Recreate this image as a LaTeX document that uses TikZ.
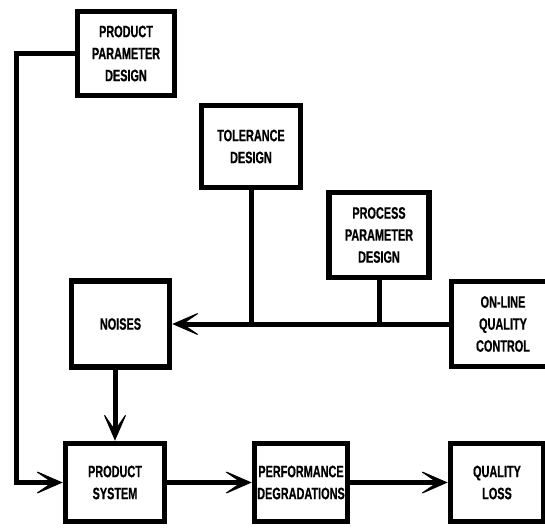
\documentclass[tikz,border=0pt]{standalone}
\usepackage{fontspec}
\setmainfont{Liberation Sans}[FakeStretch=0.66, BoldFeatures={FakeBold=0.6}]
\usetikzlibrary{arrows.meta}
\begin{document}
\begin{tikzpicture}[x=1pt,y=-1pt,
  blockbox/.style={draw=black, line width=5.5pt, fill=white, rectangle, inner sep=0pt,
    align=center, font=\fontsize{16.5}{22}\selectfont\bfseries},
  wire/.style={line width=5pt, line join=miter},
  arr/.style={wire, -{Stealth[length=30pt,width=26pt,inset=19pt,line width=1pt]}}]
\useasboundingbox (0,0) rectangle (545,528);
\begin{scope}
\clip (0,0) rectangle (545,528);
% design stages
\node[blockbox, minimum width=97pt, minimum height=84pt] (ppd) at (126,53.5) {PRODUCT\\PARAMETER\\DESIGN};
\node[blockbox, minimum width=99pt, minimum height=82pt] (tol) at (251,146.5) {TOLERANCE\\DESIGN};
\node[blockbox, minimum width=100pt, minimum height=85pt] (proc) at (379,235) {PROCESS\\PARAMETER\\DESIGN};
\node[blockbox, minimum width=103pt, minimum height=85pt] (online) at (503,324) {ON-LINE\\QUALITY\\CONTROL};
\node[blockbox, minimum width=98pt, minimum height=86pt] (noises) at (120.5,324) {NOISES};
% product chain
\node[blockbox, minimum width=99pt, minimum height=78pt] (ps) at (115,482.5) {PRODUCT\\SYSTEM};
\node[blockbox, minimum width=93pt, minimum height=78pt] (perf) at (301,482.5) {PERFORMANCE\\DEGRADATIONS};
\node[blockbox, minimum width=93pt, minimum height=78pt] (ql) at (497,482.5) {QUALITY\\LOSS};
% connectors
\coordinate (lc) at (16,482.5);
\coordinate (j1) at (tol.south |- online.west);
\coordinate (j2) at (proc.south |- online.west);
\coordinate (ns) at (ps.north |- noises.south);
\draw[arr] (ppd.west) -| (lc) -- (ps.west);
\draw[arr] (online.west) -- (noises.east);
\draw[wire] (tol.south) -- (j1);
\draw[wire] (proc.south) -- (j2);
\draw[arr] (ns) -- (ps.north);
\draw[arr] (ps.east) -- (perf.west);
\draw[arr] (perf.east) -- (ql.west);
\end{scope}
\end{tikzpicture}
\end{document}
